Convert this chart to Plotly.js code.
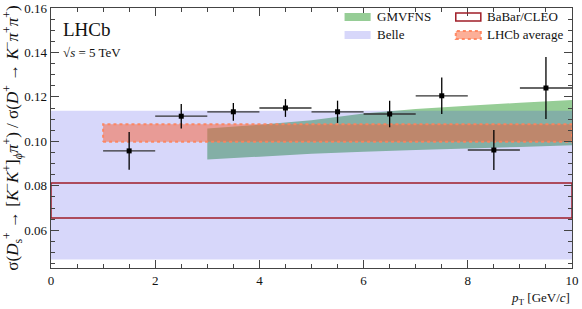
<!DOCTYPE html>
<html><head><meta charset="utf-8">
<script src="https://cdn.plot.ly/plotly-3.0.1.min.js"></script>
<style>html,body{margin:0;padding:0;background:#fff}#chart{width:582px;height:309px}</style>
</head><body><div id="chart"></div>
<script>
// LHCb measurement points
const ptX = [1.5, 2.5, 3.5, 4.5, 5.5, 6.5, 7.5, 8.5, 9.5];
const ptXErr = [0.5, 0.5, 0.5, 0.5, 0.5, 0.5, 0.5, 0.5, 0.5];
const ptY = [0.0957, 0.1113, 0.1133, 0.1150, 0.1133, 0.1123, 0.1205, 0.0961, 0.1240];
const ptYErr = [0.0085, 0.0055, 0.0040, 0.0040, 0.0050, 0.0060, 0.0082, 0.0090, 0.0140];
// GMVFNS prediction band
const gmvX = [3, 4, 5, 6, 7, 8, 9, 10];
const gmvLow = [0.0918, 0.0931, 0.0944, 0.0953, 0.0961, 0.0968, 0.0975, 0.0982];
const gmvHigh = [0.1058, 0.1075, 0.1095, 0.1125, 0.1145, 0.1160, 0.1174, 0.1186];
// Belle band
const belleX = [0, 10];
const belleLow = 0.0468;
const belleHigh = 0.1138;
// BaBar/CLEO band
const babarX = [0, 10];
const babarLow = 0.0655;
const babarHigh = 0.0813;
// LHCb average band
const avgX = [1, 10];
const avgLow = 0.0998;
const avgHigh = 0.1077;
// legend labels
const legendNames = ['GMVFNS', 'Belle', 'BaBar/CLEO', 'LHCb average'];

function band(xs, lo, hi) {
  const l = Array.isArray(lo) ? lo : xs.map(() => lo);
  const h = Array.isArray(hi) ? hi : xs.map(() => hi);
  return {x: xs.concat(xs.slice().reverse(), [xs[0]]),
          y: l.concat(h.slice().reverse(), [l[0]])};
}
const F = '"Liberation Serif", "Times New Roman", serif';

const C_GREEN = 'rgb(150,205,150)';
const C_BELLE = 'rgba(55,55,230,0.2)';
const C_AVG = 'rgba(250,95,50,0.5)';
const C_AVGLINE = 'rgba(255,130,90,0.9)';
const C_BABAR = 'rgb(160,30,40)';

const gB = band(gmvX, gmvLow, gmvHigh);
const bB = band(belleX, belleLow, belleHigh);
const aB = band(avgX, avgLow, avgHigh);
const rB = band(babarX, babarLow, babarHigh);

const traces = [
  {x: gB.x, y: gB.y, type: 'scatter', mode: 'none', fill: 'toself',
   fillcolor: C_GREEN, name: legendNames[0], showlegend: false, hoverinfo: 'skip'},
  {x: bB.x, y: bB.y, type: 'scatter', mode: 'none', fill: 'toself',
   fillcolor: C_BELLE, name: legendNames[1], showlegend: false, hoverinfo: 'skip'},
  {x: aB.x, y: aB.y, type: 'scatter', mode: 'lines', fill: 'toself',
   fillcolor: C_AVG, line: {color: C_AVGLINE, width: 2, dash: 'dot'},
   name: legendNames[3], showlegend: false, hoverinfo: 'skip'},
  {x: rB.x, y: rB.y, type: 'scatter', mode: 'lines', fill: 'toself',
   fillcolor: 'rgba(0,0,0,0)', line: {color: C_BABAR, width: 1.5},
   name: legendNames[2], showlegend: false, hoverinfo: 'skip'},
  {x: ptX, y: ptY, type: 'scatter', mode: 'markers', showlegend: false,
   marker: {color: 'black', size: 5, symbol: 'square'},
   error_x: {type: 'data', array: ptXErr, color: '#333', thickness: 1.3, width: 0},
   error_y: {type: 'data', array: ptYErr, color: 'black', thickness: 1.3, width: 0}}
];

// manual legend (paper coordinates)
const L = 51, W = 520, T = 8, H = 260;
const px = v => (v - L) / W;
const py = v => 1 - (v - T) / H;
const sw = [
  {x0: 344, x1: 370, yc: 17, fill: C_GREEN, line: {width: 0}},
  {x0: 344, x1: 370, yc: 35, fill: C_BELLE, line: {width: 0}},
  {x0: 455, x1: 480, yc: 17, fill: 'rgba(0,0,0,0)', line: {color: C_BABAR, width: 1.5}},
  {x0: 455, x1: 480, yc: 35, fill: C_AVG, line: {color: C_AVGLINE, width: 2, dash: 'dot'}}
];
const shapes = sw.map(s => ({type: 'rect', xref: 'paper', yref: 'paper',
  x0: px(s.x0), x1: px(s.x1), y0: py(s.yc + 4), y1: py(s.yc - 4),
  fillcolor: s.fill, line: s.line, layer: 'above'}));
const legAnn = [
  {name: legendNames[0], x: 374, y: 17}, {name: legendNames[1], x: 374, y: 35},
  {name: legendNames[2], x: 484, y: 17}, {name: legendNames[3], x: 484, y: 35}
].map(a => ({xref: 'paper', yref: 'paper', x: px(a.x), y: py(a.y), xanchor: 'left', yanchor: 'middle',
  text: a.name, showarrow: false, font: {family: F, size: 13, color: '#111'}}));

const axCommon = {
  showgrid: false, zeroline: false, showline: true, linecolor: '#444', linewidth: 1.3,
  mirror: 'ticks', ticks: 'inside', ticklen: 8, tickcolor: '#444', tickwidth: 1,
  tickfont: {family: F, size: 13, color: '#111'}
};
const layout = {
  width: 582, height: 309,
  margin: {l: 51, r: 10, t: 8, b: 41},
  paper_bgcolor: 'white', plot_bgcolor: 'white',
  font: {family: F, color: '#111'},
  showlegend: false,
  xaxis: Object.assign({}, axCommon, {range: [0, 10], dtick: 2, tick0: 0,
    minor: {dtick: 0.5, ticks: 'inside', ticklen: 4, tickcolor: '#444'}}),
  yaxis: Object.assign({}, axCommon, {range: [0.043, 0.16], dtick: 0.02, tick0: 0,
    tickformat: '.2f',
    minor: {dtick: 0.005, ticks: 'inside', ticklen: 4, tickcolor: '#444'},
    title: {text: 'σ(<i>D</i><sub>s</sub><sup>+</sup> → [<i>K</i><sup>−</sup><i>K</i><sup>+</sup>]<sub><i>ϕ</i></sub><i>π</i><sup>+</sup>) / σ(<i>D</i><sup>+</sup> → <i>K</i><sup>−</sup><i>π</i><sup>+</sup><i>π</i><sup>+</sup>)',
      font: {family: F, size: 17, color: '#111'}, standoff: 3}}),
  shapes: shapes,
  annotations: legAnn.concat([
    {xref: 'paper', yref: 'paper', x: 0.02, y: 0.965, xanchor: 'left', yanchor: 'top',
     text: 'LHCb', showarrow: false, font: {family: F, size: 19, color: '#111'}},
    {xref: 'paper', yref: 'paper', x: 0.02, y: 0.865, xanchor: 'left', yanchor: 'top',
     text: '√<i>s</i> = 5 TeV', showarrow: false, font: {family: F, size: 13, color: '#111'}},
    {xref: 'paper', yref: 'paper', x: 1, y: -0.078, xanchor: 'right', yanchor: 'top',
     text: '<i>p</i><sub>T</sub> [GeV/<i>c</i>]', showarrow: false, font: {family: F, size: 13, color: '#111'}}
  ])
};
Plotly.newPlot('chart', traces, layout, {staticPlot: true, displayModeBar: false});
</script></body></html>
